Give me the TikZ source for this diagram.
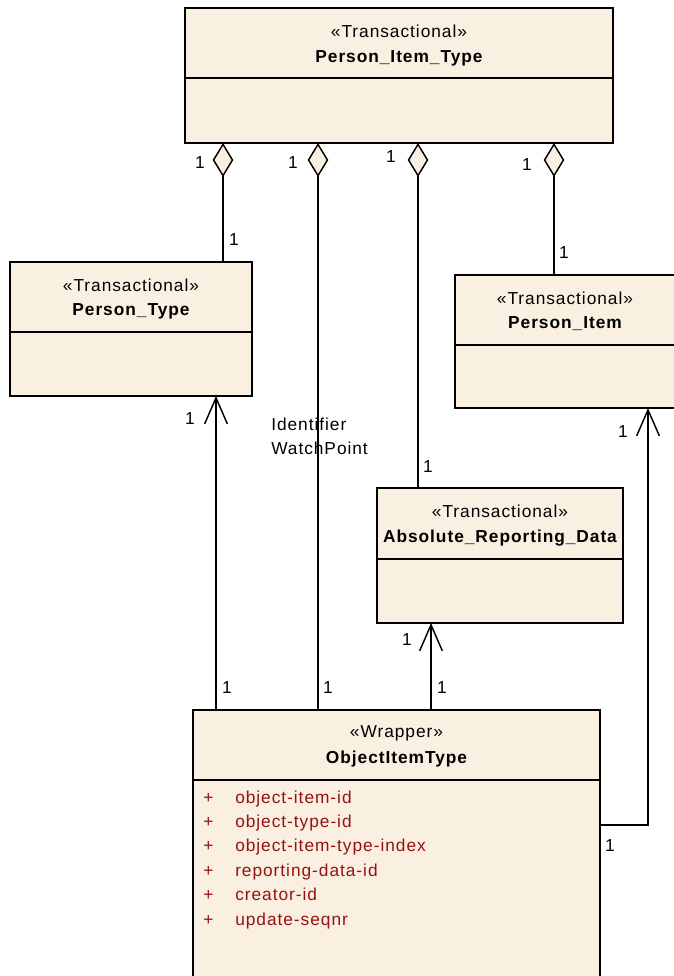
\documentclass[tikz,border=0pt]{standalone}
\usepackage{fontspec}
\setmainfont{Liberation Sans}[LetterSpace=5.5]
\usepackage{tikz}
\usetikzlibrary{
  arrows.meta, % 菱形与开口箭头
  calc         % 坐标计算
}

\definecolor{classfill}{RGB}{250,240,226}
\definecolor{attrred}{RGB}{150,18,18}

\begin{document}
\begin{tikzpicture}[x=0.75pt, y=-0.75pt, line join=miter,
    font=\fontsize{13pt}{15.5pt}\selectfont]
  % 统一设置：类框、分隔线、聚合线、导航箭头、多重性文字
  \tikzset{
    class box/.style={draw=black, line width=1.3pt, fill=classfill,
      inner sep=0pt, outer sep=0pt, anchor=north west},
    stereo text/.style={anchor=base, inner sep=0pt},
    name text/.style={anchor=base, inner sep=0pt,
      font=\fontsize{13pt}{15.5pt}\selectfont\bfseries},
    divider/.style={draw=black, line width=1.3pt},
    aggregation/.style={draw=black, line width=1.1pt,
      arrows={Diamond[length=25.5pt, width=15.5pt, fill=classfill]-}},
    navigable/.style={draw=black, line width=1.1pt,
      arrows={-Straight Barb[length=19.5pt, width=17pt]}},
    mult/.style={inner sep=0pt},
    attr text/.style={anchor=base west, inner sep=0pt, text=attrred}
  }

  \useasboundingbox (0,0) rectangle (674,976);

  % =======================
  % 类框
  % =======================
  % 顶部的 Person_Item_Type
  \node[class box, minimum width=428*0.75pt, minimum height=135*0.75pt] (pit) at (185,8) {};
  \node[stereo text] (pit-s) at ($(pit.north)+(0,29)$) {«Transactional»};
  \node[name text] (pit-n) at ($(pit.north)+(0,54)$) {Person\_Item\_Type};
  \draw[divider] ($(pit.north west)+(0,70)$) -- ($(pit.north east)+(0,70)$);

  % 左侧的 Person_Type
  \node[class box, minimum width=242*0.75pt, minimum height=134*0.75pt] (pt) at (10,262) {};
  \node[stereo text] (pt-s) at ($(pt.north)+(0,29)$) {«Transactional»};
  \node[name text] (pt-n) at ($(pt.north)+(0,53)$) {Person\_Type};
  \draw[divider] ($(pt.north west)+(0,70)$) -- ($(pt.north east)+(0,70)$);

  % 右侧的 Person_Item（右边被裁掉）
  \node[class box, minimum width=222*0.75pt, minimum height=133*0.75pt] (pi) at (455,275) {};
  \node[stereo text] (pi-s) at ($(pi.north)+(-1,29)$) {«Transactional»};
  \node[name text] (pi-n) at ($(pi.north)+(-1,53)$) {Person\_Item};
  \draw[divider] ($(pi.north west)+(0,70)$) -- ($(pi.north east)+(0,70)$);

  % 中间的 Absolute_Reporting_Data
  \node[class box, minimum width=246*0.75pt, minimum height=135*0.75pt] (ard) at (377,488) {};
  \node[stereo text] (ard-s) at ($(ard.north)+(0,29)$) {«Transactional»};
  \node[name text] (ard-n) at ($(ard.north)+(0,54)$) {Absolute\_Reporting\_Data};
  \draw[divider] ($(ard.north west)+(0,71)$) -- ($(ard.north east)+(0,71)$);

  % 底部的 ObjectItemType（下边被裁掉）
  \node[class box, minimum width=407*0.75pt, minimum height=290*0.75pt] (oit) at (193,710) {};
  \node[stereo text] (oit-s) at ($(oit.north)+(0,27)$) {«Wrapper»};
  \node[name text] (oit-n) at ($(oit.north)+(0,53)$) {ObjectItemType};
  \draw[divider] ($(oit.north west)+(0,70)$) -- ($(oit.north east)+(0,70)$);

  % 属性列表
  \foreach \attr [count=\i from 0] in {object-item-id, object-type-id,
      object-item-type-index, reporting-data-id, creator-id, update-seqnr}{
    \node[attr text] (plus\i) at ($(oit.north west)+(10,93+24.4*\i)$) {+};
    \node[attr text] (attr\i) at ($(oit.north west)+(42,93+24.4*\i)$) {\attr};
  }

  % =======================
  % 聚合连线（菱形在 Person_Item_Type 一端）
  % =======================
  \draw[aggregation] ($(pit.south west)+(38,0)$) coordinate (a1) -- (a1 |- pt.north);
  \draw[aggregation] ($(pit.south west)+(133,0)$) coordinate (a2) -- (a2 |- oit.north);
  \draw[aggregation] ($(pit.south west)+(233,0)$) coordinate (a3) -- (a3 |- ard.north);
  \draw[aggregation] ($(pit.south west)+(369,0)$) coordinate (a4) -- (a4 |- pi.north);

  % 角色名
  \node[anchor=north west, align=left, inner sep=0pt,
    font=\fontsize{13pt}{18pt}\selectfont] (role) at ($(a2)+(-47,275)$) {Identifier\\WatchPoint};

  % =======================
  % 导航箭头（从 ObjectItemType 出发）
  % =======================
  \draw[navigable] ($(oit.north west)+(23,0)$) coordinate (b1) -- (b1 |- pt.south);
  \draw[navigable] ($(oit.north west)+(238,0)$) coordinate (b2) -- (b2 |- ard.south);
  \draw[navigable] ($(oit.north east)+(1,115)$) coordinate (b3) -| ($(pi.south west)+(193,0)$) coordinate (b3e);

  % =======================
  % 多重性 "1"
  % =======================
  \node[mult] (m1) at ($(a1)+(-23,20)$) {1};
  \node[mult] (m2) at ($(a2)+(-25,20)$) {1};
  \node[mult] (m3) at ($(a3)+(-27,14)$) {1};
  \node[mult] (m4) at ($(a4)+(-27,22)$) {1};
  \node[mult] (m5) at ($(a1 |- pt.north)+(11,-22)$) {1};
  \node[mult] (m6) at ($(a4 |- pi.north)+(10,-22)$) {1};
  \node[mult] (m7) at ($(a3 |- ard.north)+(10,-21)$) {1};
  \node[mult] (m8) at ($(a2 |- oit.north)+(10,-22)$) {1};
  \node[mult] (m9) at ($(b1)+(11,-22)$) {1};
  \node[mult] (m10) at ($(b1 |- pt.south)+(-26,23)$) {1};
  \node[mult] (m11) at ($(b2)+(11,-22)$) {1};
  \node[mult] (m12) at ($(b2 |- ard.south)+(-24,17)$) {1};
  \node[mult] (m13) at ($(b3)+(9,21)$) {1};
  \node[mult] (m14) at ($(b3e)+(-25,24)$) {1};

\end{tikzpicture}
\end{document}
